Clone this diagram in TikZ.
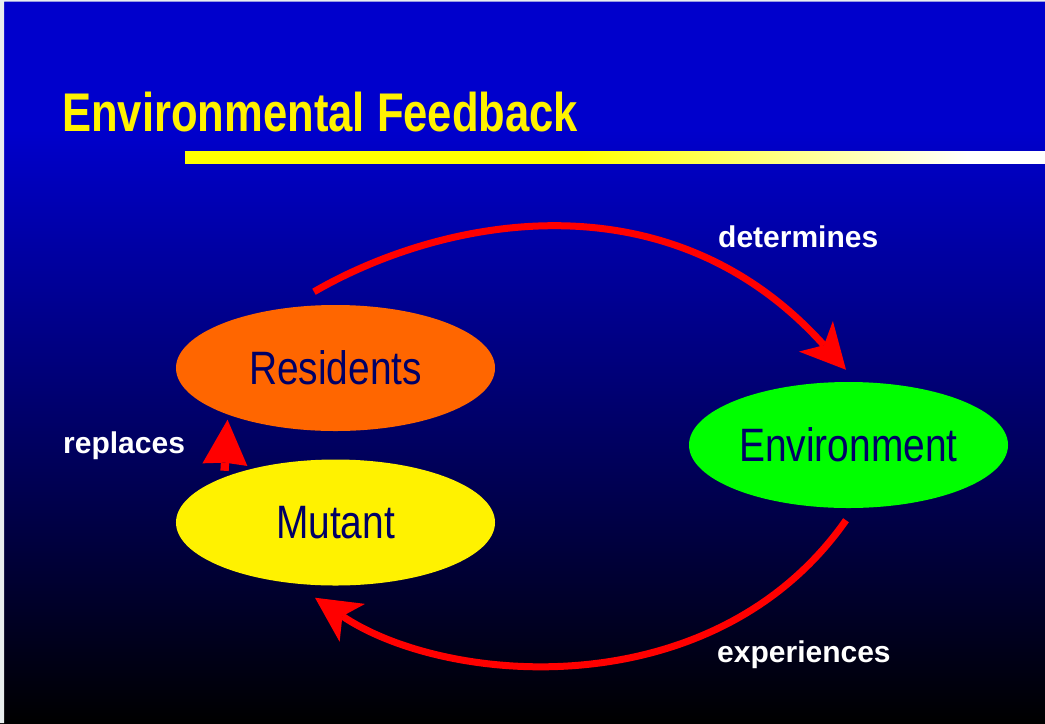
\documentclass[tikz,border=0pt]{standalone}
\usepackage{fontspec}
\setmainfont{Liberation Sans}
\newfontfamily\narrowfont[FakeStretch=0.83]{Liberation Sans}
\newfontfamily\titlefont[FakeStretch=0.80]{Liberation Sans Bold}
\usetikzlibrary{arrows.meta,shapes.geometric}

\definecolor{slideblue}{RGB}{0,0,204}
\definecolor{midblue}{RGB}{0,0,122}
\definecolor{labelnavy}{RGB}{0,0,102}
\definecolor{resorange}{RGB}{255,102,0}
\definecolor{envgreen}{RGB}{0,255,0}
\definecolor{edgegray}{RGB}{232,238,238}
\pgfdeclarehorizontalshading{barfade}{100bp}{color(0bp)=(yellow); color(48bp)=(yellow);
  color(70.5bp)=(white); color(100bp)=(white)}

\begin{document}
\begin{tikzpicture}[x=0.03cm,y=0.03cm,
    blob/.style={ellipse, minimum width=9.57cm, minimum height=3.78cm, inner sep=0pt,
      text=labelnavy, font=\narrowfont\fontsize{40}{40}\selectfont},
    cyclearrow/.style={draw=red, line width=0.21cm,
      -{Stealth[length=1.35cm,width=1.37cm,inset=0.36cm,line width=0pt]}},
    linklabel/.style={text=white, font=\bfseries\fontsize{25.6}{26}\selectfont,
      inner sep=0pt, anchor=base west}]
  \useasboundingbox (0,0) rectangle (1045,-723);
  \fill[slideblue] (0,0) rectangle (1045,-130);
  \shade[top color=slideblue, middle color=midblue, bottom color=black]
    (0,-130) rectangle (1045,-723);
  \fill[edgegray] (0,0) rectangle (4,-723) (0,0) rectangle (1045,-1.5);
  % title and bar
  \node[anchor=base west, inner sep=0pt, text=yellow,
    font=\titlefont\fontsize{46.5}{47}\selectfont] (title) at (62,-131) {Environmental Feedback};
  \shade[shading=barfade] (185,-151) rectangle (1045,-163);

  \node[blob, fill=resorange] (Residents) at (335.5,-368) {Residents};
  \node[blob, fill=yellow] (Mutant) at (335.5,-522.5) {Mutant};
  \node[blob, fill=envgreen] (Environment) at (848.5,-445) {Environment};

  \draw[cyclearrow] ([shift={(-21.5,13)}]Residents.north)
    .. controls +(126,73) and +(-179,199) .. ([shift={(-2.5,12)}]Environment.north);
  \draw[cyclearrow] ([shift={(-2.5,-12)}]Environment.south)
    .. controls +(-132,-188) and +(131,-88) .. ([shift={(-20.5,-12)}]Mutant.south);
  \draw[draw=red, line width=0.25cm,
    -{Stealth[length=1.35cm,width=1.35cm,inset=0.06cm,line width=0pt]}]
    ([shift={(2,7)}]Mutant.north west) -- ([shift={(5,-7)}]Residents.south west);

  \node[linklabel] (determines) at (718,-247) {determines};
  \node[linklabel] (experiences) at (717,-662) {experiences};
  \node[linklabel] (replaces) at (63,-453) {replaces};
\end{tikzpicture}
\end{document}
